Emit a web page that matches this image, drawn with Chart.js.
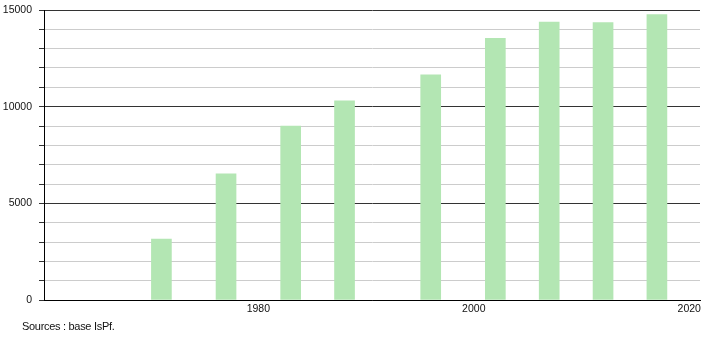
<!DOCTYPE html>
<html>
<head>
<meta charset="utf-8">
<script src="https://cdn.jsdelivr.net/npm/chart.js@4"></script>
<style>
  html, body { margin: 0; padding: 0; background: #fff; }
  #wrap { position: relative; width: 710px; height: 340px; }
  #src { position: absolute; left: 22px; top: 320px; font: 11px "Liberation Sans", Arial, sans-serif; color: #111; letter-spacing: -0.3px; }
</style>
</head>
<body>
<div id="wrap">
  <canvas id="c" width="710" height="340"></canvas>
  <div id="src">Sources : base IsPf.</div>
</div>
<script>
const years = [1971, 1977, 1983, 1988, 1996, 2002, 2007, 2012, 2017];
const population = [3150, 6520, 9000, 10300, 11650, 13540, 14370, 14350, 14760];
const xTickLabels = [1980, 2000, 2020];
const yTickLabels = [0, 5000, 10000, 15000];

const font = { family: '"Liberation Sans", Arial, sans-serif', size: 10.5 };

new Chart(document.getElementById('c'), {
  type: 'bar',
  data: {
    datasets: [{
      data: years.map((y, i) => ({ x: y, y: population[i] })),
      backgroundColor: '#b3e6b3',
      borderWidth: 0,
      barThickness: 20
    }]
  },
  options: {
    responsive: false,
    animation: false,
    devicePixelRatio: 1,
    layout: { padding: { left: 0, right: 10, top: 10, bottom: 0 } },
    plugins: { legend: { display: false }, tooltip: { enabled: false } },
    scales: {
      x: {
        type: 'linear',
        min: 1960.1,
        max: 2021,
        offset: false,
        grid: { display: false, drawTicks: false, tickLength: 0, offset: false },
        border: { display: true, color: '#000', width: 1 },
        afterBuildTicks: (s) => { s.ticks = xTickLabels.map(v => ({ value: v })); },
        afterFit: (s) => { s.height = 40; s.paddingLeft = 0; s.paddingRight = 0; },
        ticks: { color: '#111', font: font, padding: 3, maxRotation: 0, callback: (v) => String(v) }
      },
      y: {
        min: 0,
        max: 15000,
        afterFit: (s) => { s.width = 44; s.paddingTop = 0; s.paddingBottom = 0; },
        border: { display: true, color: '#000', width: 1 },
        grid: {
          color: (ctx) => (ctx.tick && yTickLabels.includes(ctx.tick.value)) ? '#333' : '#cccccc',
          tickColor: '#333',
          tickLength: 5,
          lineWidth: 1
        },
        ticks: {
          stepSize: 1000,
          color: '#111',
          font: font,
          padding: 7,
          callback: (v) => yTickLabels.includes(v) ? String(v) : ''
        }
      }
    }
  }
});
</script>
</body>
</html>
